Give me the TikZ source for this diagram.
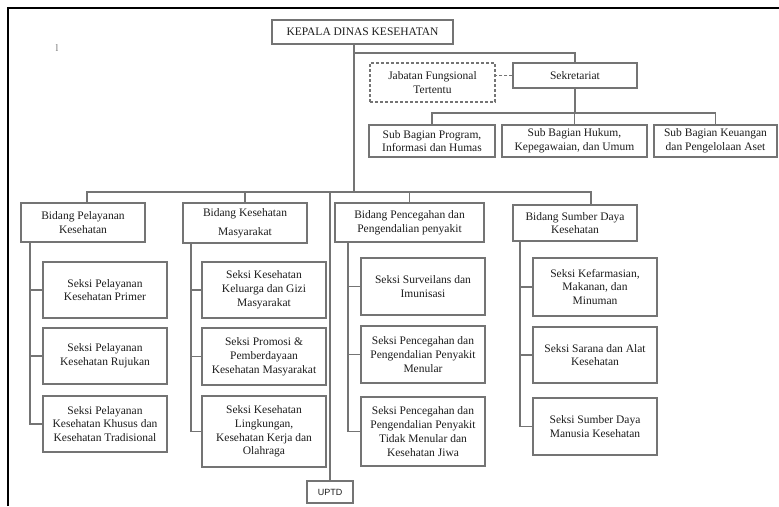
\documentclass[tikz,border=0pt]{standalone}
\usepackage{fontspec}
\setmainfont{Liberation Serif}
\newfontfamily\uptdfont{Liberation Sans}

\definecolor{boxgray}{HTML}{747474}
\definecolor{inkgray}{HTML}{1C1C1C}

\tikzset{
    unit/.style = {
        draw=boxgray,
        line width=1.2pt,
        align=center,
        inner sep=0,
        text=inkgray,
        font=\fontsize{11.5}{13.8}\selectfont,
    },
    seksi/.style = {
        unit,
        minimum width=124,
    },
    fungsional/.style = {
        unit,
        dash pattern=on 3pt off 2pt,
    },
    link/.style = {
        draw=boxgray,
        line width=1.1pt,
    },
    frame/.style = {
        draw=black,
        line width=2pt,
    },
}

\begin{document}
\begin{tikzpicture}[x=1pt,y=-1pt]
    \useasboundingbox (0,0) rectangle (779,506);

    % page frame (top and left edge only)
    \draw[frame] (8,506) |- (779,8);
    \node[text=boxgray, font=\fontsize{10}{11}\selectfont] (mark) at (57,48) {l};

    % head and secretariat
    \node[unit, minimum width=181, minimum height=24] (kepala) at (362.5,32) {KEPALA DINAS KESEHATAN};
    \node[fungsional, minimum width=125, minimum height=39] (jabatan) at (432.5,82.5) {Jabatan Fungsional\\Tertentu};
    \node[unit, minimum width=124, minimum height=25] (sekretariat) at (575,75.5) {Sekretariat};

    % sub bagian
    \node[unit, minimum width=126, minimum height=32] (subprog) at (432,141) {Sub Bagian Program,\\Informasi dan Humas};
    \node[unit, minimum width=145, minimum height=32] (subhukum) at (574.5,141) {Sub Bagian Hukum,\\Kepegawaian, dan Umum};
    \node[unit, minimum width=123, minimum height=32] (subkeu) at (715.5,141) {Sub Bagian Keuangan\\dan Pengelolaan Aset};

    % bidang
    \node[unit, minimum width=124, minimum height=39] (bpel) at (83,222.5) {Bidang Pelayanan\\Kesehatan};
    \node[unit, minimum width=124, minimum height=40] (bkes) at (245,223) {Bidang Kesehatan\\[5pt]Masyarakat};
    \node[unit, minimum width=149, minimum height=39] (bpen) at (409.5,222.5) {Bidang Pencegahan dan\\Pengendalian penyakit};
    \node[unit, minimum width=124, minimum height=36] (bsdk) at (575,223) {Bidang Sumber Daya\\Kesehatan};

    \node[unit, font=\uptdfont\fontsize{9}{10}\selectfont, minimum width=46, minimum height=22] (uptd) at (330,492) {UPTD};

    % trunk lines
    \coordinate (trunk) at (354,0);
    \coordinate (seksline) at (0,53);
    \coordinate (subbar) at (0,113);
    \coordinate (bidbar) at (0,192);
    \draw[link] (kepala.south -| trunk) -- (trunk |- bidbar);
    \draw[link] (trunk |- seksline) -| (sekretariat.north);
    \draw[link, dash pattern=on 3pt off 2pt] (sekretariat.west) -- (sekretariat.west -| jabatan.east);
    \draw[link] (sekretariat.south) -- (sekretariat.south |- subbar);
    \draw[link] (subprog.north) |- (subbar -| subkeu.north) -- (subkeu.north);
    \draw[link] (subhukum.north) -- (subhukum.north |- subbar);
    \draw[link] ([xshift=4]bpel.north) |- (bidbar -| bsdk.north) -- ++(16,0) -- ([xshift=16]bsdk.north);
    \draw[link] (bkes.north) -- (bkes.north |- bidbar);
    \draw[link] (bpen.north) -- (bpen.north |- bidbar);
    \draw[link] (uptd.north) -- (uptd.north |- bidbar);

    % seksi columns
    \coordinate (spine-pel) at (30,0);
    \coordinate (spine-kes) at (191,0);
    \coordinate (spine-pen) at (348,0);
    \coordinate (spine-sdk) at (520,0);

    \foreach \txt/\y/\h [count=\i] in {
        {Seksi Pelayanan\\Kesehatan Primer}/290/56,
        {Seksi Pelayanan\\Kesehatan Rujukan}/356/56,
        {Seksi Pelayanan\\Kesehatan Khusus dan\\Kesehatan Tradisional}/424/56
    } {
        \node[seksi, minimum height=\h] (pel-\i) at (105,\y) {\txt};
        \draw[link] (pel-\i.west) -- (pel-\i.west -| spine-pel);
    }
    \draw[link] (bpel.south -| spine-pel) |- (pel-3.west);

    \foreach \txt/\y/\h [count=\i] in {
        {Seksi Kesehatan\\Keluarga dan Gizi\\Masyarakat}/290/56,
        {Seksi Promosi \&\\Pemberdayaan\\Kesehatan Masyarakat}/356.5/57,
        {Seksi Kesehatan\\Lingkungan,\\Kesehatan Kerja dan\\Olahraga}/431.5/71
    } {
        \node[seksi, minimum height=\h] (kes-\i) at (264,\y) {\txt};
        \draw[link] (kes-\i.west) -- (kes-\i.west -| spine-kes);
    }
    \draw[link] (bkes.south -| spine-kes) |- (kes-3.west);

    \foreach \txt/\y/\h [count=\i] in {
        {Seksi Surveilans dan\\Imunisasi}/286.5/57,
        {Seksi Pencegahan dan\\Pengendalian Penyakit\\Menular}/354.5/57,
        {Seksi Pencegahan dan\\Pengendalian Penyakit\\Tidak Menular dan\\Kesehatan Jiwa}/431.5/69
    } {
        \node[seksi, minimum height=\h] (pen-\i) at (423,\y) {\txt};
        \draw[link] (pen-\i.west) -- (pen-\i.west -| spine-pen);
    }
    \draw[link] (bpen.south -| spine-pen) |- (pen-3.west);

    \foreach \txt/\y/\h [count=\i] in {
        {Seksi Kefarmasian,\\Makanan, dan\\Minuman}/287/58,
        {Seksi Sarana dan Alat\\Kesehatan}/355/56,
        {Seksi Sumber Daya\\Manusia Kesehatan}/426.5/57
    } {
        \node[seksi, minimum height=\h] (sdk-\i) at (595,\y) {\txt};
        \draw[link] (sdk-\i.west) -- (sdk-\i.west -| spine-sdk);
    }
    \draw[link] (bsdk.south -| spine-sdk) |- (sdk-3.west);

\end{tikzpicture}
\end{document}
